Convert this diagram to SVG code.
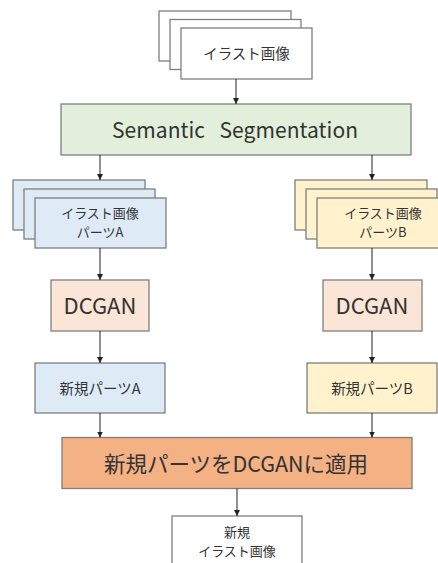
<svg xmlns="http://www.w3.org/2000/svg" width="438" height="563" viewBox="0 0 438 563">
<defs>
<marker id="ah" markerWidth="6" markerHeight="6" refX="6" refY="3" orient="auto" markerUnits="userSpaceOnUse">
<path d="M0,0 L6,3 L0,6 z" fill="#222"/>
</marker>
<style>
.b{stroke:#7f7f7f;stroke-width:1.3}
.w{fill:#ffffff}
.g{fill:#e2efda}
.bl{fill:#deebf7}
.y{fill:#fff2cc}
.p{fill:#fbe5d6}
.o{fill:#f4b183}
text{font-family:"Noto Sans CJK JP","Noto Sans",sans-serif;fill:#333;text-anchor:middle;dominant-baseline:central}
.s{font-size:14.5px}
.t{font-size:13px}
.m{font-size:21px}
.l{font-size:22px}
.c line{stroke:#222;stroke-width:1;marker-end:url(#ah)}
</style>
</defs>
<rect width="438" height="563" fill="#ffffff"/>
<g id="input">
<rect class="b w" x="159" y="11" width="132" height="50"/>
<rect class="b w" x="170" y="19.5" width="131" height="50"/>
<rect class="b w" x="181" y="28" width="131" height="51"/>
<text class="s" x="246.5" y="52">イラスト画像</text>
</g>
<g id="seg">
<rect class="b g" x="61" y="104" width="350" height="51"/>
<text class="m" x="235" y="129" xml:space="preserve" textLength="246" lengthAdjust="spacing">Semantic   Segmentation</text>
</g>
<g id="partsA">
<rect class="b bl" x="13" y="180" width="132" height="50"/>
<rect class="b bl" x="24" y="189" width="131" height="50"/>
<rect class="b bl" x="35" y="198" width="131" height="50"/>
<text class="t" x="100" y="212.5">イラスト画像</text>
<text class="t" x="100" y="231.5">パーツA</text>
</g>
<g id="partsB">
<rect class="b y" x="295" y="180" width="132" height="50"/>
<rect class="b y" x="306" y="189" width="131" height="50"/>
<rect class="b y" x="317" y="198" width="132" height="50"/>
<text class="t" x="383" y="212.5">イラスト画像</text>
<text class="t" x="383" y="231.5">パーツB</text>
</g>
<g id="dcganA">
<rect class="b p" x="51" y="280" width="98" height="51"/>
<text class="l" x="100" y="304">DCGAN</text>
</g>
<g id="dcganB">
<rect class="b p" x="323" y="280" width="99" height="51"/>
<text class="l" x="372" y="304">DCGAN</text>
</g>
<g id="newA">
<rect class="b bl" x="35" y="363" width="130" height="50"/>
<text class="s" x="100" y="387">新規パーツA</text>
</g>
<g id="newB">
<rect class="b y" x="307" y="363" width="130" height="50"/>
<text class="s" x="372" y="387">新規パーツB</text>
</g>
<g id="apply">
<rect class="b o" x="62" y="437.5" width="350" height="51"/>
<text class="l" x="236" y="462.5" style="font-size:21.5px">新規パーツをDCGANに適用</text>
</g>
<g id="output">
<rect class="b w" x="172" y="516" width="130" height="60"/>
<text class="t" x="237" y="531.5">新規</text>
<text class="t" x="237" y="550.5">イラスト画像</text>
</g>
<g class="c" id="connectors">
<line x1="236" y1="79" x2="236" y2="104"/>
<line x1="100" y1="155" x2="100" y2="180"/>
<line x1="372" y1="155" x2="372" y2="180"/>
<line x1="100" y1="248" x2="100" y2="280"/>
<line x1="372" y1="248" x2="372" y2="280"/>
<line x1="100" y1="331" x2="100" y2="363"/>
<line x1="372" y1="331" x2="372" y2="363"/>
<line x1="100" y1="413" x2="100" y2="437.5"/>
<line x1="372" y1="413" x2="372" y2="437.5"/>
<line x1="237" y1="488.5" x2="237" y2="516"/>
</g>
</svg>
